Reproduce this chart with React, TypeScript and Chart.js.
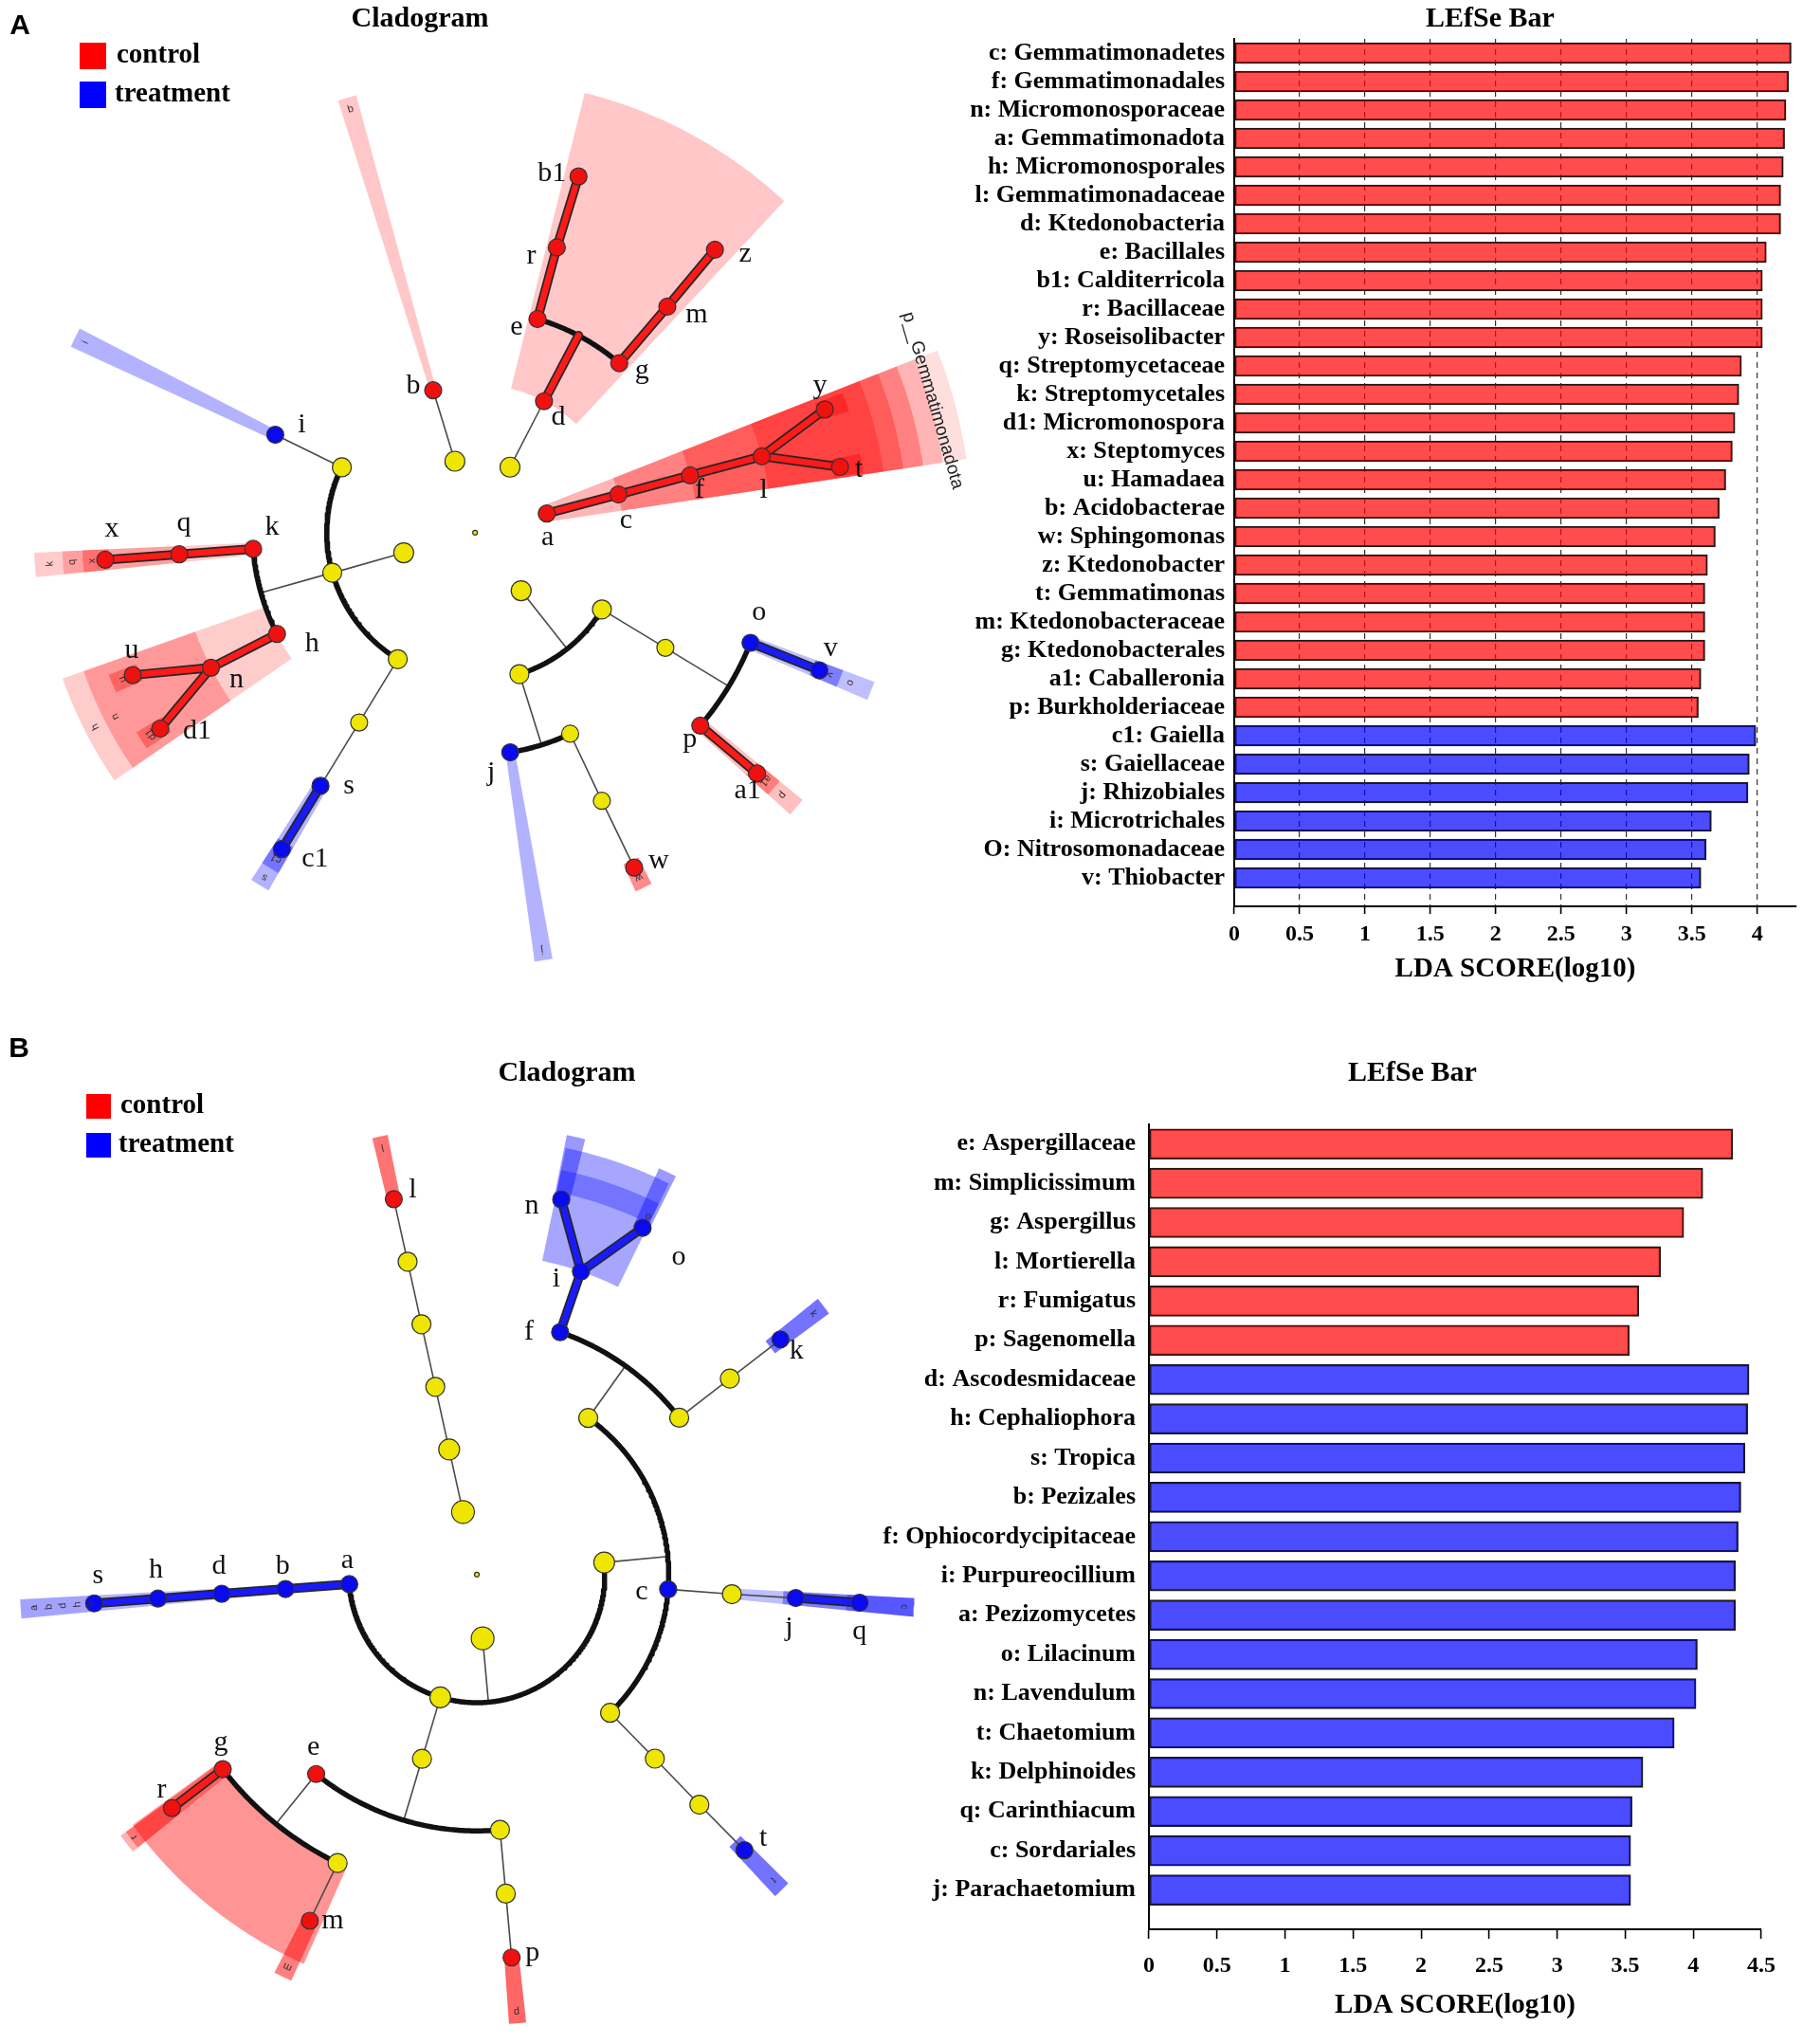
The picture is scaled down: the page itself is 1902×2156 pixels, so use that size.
import React, { useEffect, useRef } from 'react';
import { Chart, registerables } from 'chart.js';

Chart.register(...registerables);

const SERIF = '"Liberation Serif", "Times New Roman", serif';
const SANS = '"Liberation Sans", Arial, sans-serif';
Chart.defaults.font.family = SERIF;

// ================= DATA: Panel A LEfSe bar =================
const A_BAR_LABELS = [
  'c: Gemmatimonadetes', 'f: Gemmatimonadales', 'n: Micromonosporaceae', 'a: Gemmatimonadota',
  'h: Micromonosporales', 'l: Gemmatimonadaceae', 'd: Ktedonobacteria', 'e: Bacillales',
  'b1: Calditerricola', 'r: Bacillaceae', 'y: Roseisolibacter', 'q: Streptomycetaceae',
  'k: Streptomycetales', 'd1: Micromonospora', 'x: Steptomyces', 'u: Hamadaea',
  'b: Acidobacterae', 'w: Sphingomonas', 'z: Ktedonobacter', 't: Gemmatimonas',
  'm: Ktedonobacteraceae', 'g: Ktedonobacterales', 'a1: Caballeronia', 'p: Burkholderiaceae',
  'c1: Gaiella', 's: Gaiellaceae', 'j: Rhizobiales', 'i: Microtrichales',
  'O: Nitrosomonadaceae', 'v: Thiobacter',
];
const A_BAR_VALUES = [
  4.26, 4.24, 4.22, 4.21, 4.2, 4.18, 4.18, 4.07, 4.04, 4.04, 4.04, 3.88, 3.86, 3.83, 3.81,
  3.76, 3.71, 3.68, 3.62, 3.6, 3.6, 3.6, 3.57, 3.55, 3.99, 3.94, 3.93, 3.65, 3.61, 3.57,
];
const A_BAR_GROUPS = [
  'control', 'control', 'control', 'control', 'control', 'control', 'control', 'control',
  'control', 'control', 'control', 'control', 'control', 'control', 'control', 'control',
  'control', 'control', 'control', 'control', 'control', 'control', 'control', 'control',
  'treatment', 'treatment', 'treatment', 'treatment', 'treatment', 'treatment',
];
const A_X_MAX = 4.3;

// ================= DATA: Panel B LEfSe bar =================
const B_BAR_LABELS = [
  'e: Aspergillaceae', 'm: Simplicissimum', 'g: Aspergillus', 'l: Mortierella', 'r: Fumigatus',
  'p: Sagenomella', 'd: Ascodesmidaceae', 'h: Cephaliophora', 's: Tropica', 'b: Pezizales',
  'f: Ophiocordycipitaceae', 'i: Purpureocillium', 'a: Pezizomycetes', 'o: Lilacinum',
  'n: Lavendulum', 't: Chaetomium', 'k: Delphinoides', 'q: Carinthiacum', 'c: Sordariales',
  'j: Parachaetomium',
];
const B_BAR_VALUES = [
  4.29, 4.07, 3.93, 3.76, 3.6, 3.53, 4.41, 4.4, 4.38, 4.35, 4.33, 4.31, 4.31, 4.03, 4.02,
  3.86, 3.63, 3.55, 3.54, 3.54,
];
const B_BAR_GROUPS = [
  'control', 'control', 'control', 'control', 'control', 'control',
  'treatment', 'treatment', 'treatment', 'treatment', 'treatment', 'treatment', 'treatment',
  'treatment', 'treatment', 'treatment', 'treatment', 'treatment', 'treatment', 'treatment',
];
const B_X_MAX = 4.5;

// ================= DATA: Panel A cladogram (level = taxonomic rank, angle in degrees) =================
const A_NODE_IDS = [
  'root', '_1a', 'b', '_1b', 'd', 'e', 'r', 'b1', 'g', 'm', 'z',
  'a', 'c', 'f', 'l', 'y', 't',
  '_1d', '_2d', '_3d', 'o', 'v', 'p', 'a1', '_2j', 'j', '_3w', '_4w', 'w',
  '_1e', '_2i', 'i', '_2k', 'k', 'q', 'x', 'h', 'n', 'u', 'd1', '_2s', '_3s', 's', 'c1',
];
const A_NODE_LEVELS = [
  0, 1, 2, 1, 2, 3, 4, 5, 3, 4, 5,
  1, 2, 3, 4, 5, 5,
  1, 2, 3, 4, 5, 4, 5, 2, 3, 3, 4, 5,
  1, 2, 3, 2, 3, 4, 5, 3, 4, 5, 5, 2, 3, 4, 5,
];
const A_NODE_ANGLES = [
  0, 105.8, 106.4, 61.9, 62.3, 73.7, 74.0, 73.8, 49.6, 49.6, 49.7,
  14.9, 14.9, 14.9, 14.9, 19.4, 10.2,
  -51.6, -31.2, -31.2, -21.8, -21.8, -40.6, -40.5, -72.6, -80.9, -64.7, -64.7, -64.6,
  195.8, 153.9, 153.9, 195.7, 184.2, 184.2, 184.2, 207.1, 207.1, 202.6, 211.9, 238.6, 238.6, 238.6, 238.6,
];
const A_NODE_PARENTS = [
  '', 'root', '_1a', 'root', '_1b', 'd', 'e', 'r', 'd', 'g', 'm',
  'root', 'a', 'c', 'f', 'l', 'l',
  'root', '_1d', '_2d', '_3d', 'o', '_3d', 'p', '_1d', '_2j', '_2j', '_3w', '_4w',
  'root', '_1e', '_2i', '_1e', '_2k', 'k', 'q', '_2k', 'h', 'n', 'n', '_1e', '_2s', '_3s', 's',
];
const A_NODE_GROUPS = [
  '', '', 'control', '', 'control', 'control', 'control', 'control', 'control', 'control', 'control',
  'control', 'control', 'control', 'control', 'control', 'control',
  '', '', '', 'treatment', 'treatment', 'control', 'control', '', 'treatment', '', '', 'control',
  '', '', 'treatment', '', 'control', 'control', 'control', 'control', 'control', 'control', 'control',
  '', '', 'treatment', 'treatment',
];
// highlighted clades: node, angular span (deg), radial span (rank levels), opacity
const A_HL_NODES = ['b', 'i', 'd', 'a', 'a', 'c', 'f', 'l', 'y', 't', 'k', 'q', 'x', 'h', 'n', 'u', 'd1', 's', 'c1', 'j', 'w', 'o', 'v', 'p', 'a1'];
const A_HL_FROM = [105.2, 152.7, 47, 8.5, 8.5, 8.5, 8.5, 8.5, 18.0, 8.8, 182.6, 182.6, 182.6, 199.5, 199.5, 201.2, 210.5, 237.2, 237.2, -82.1, -65.9, -23.1, -23.1, -41.8, -41.8];
const A_HL_TO = [107.6, 155.3, 76, 21.5, 21.5, 21.5, 21.5, 21.5, 20.8, 11.6, 185.8, 185.8, 185.8, 214.5, 214.5, 204.0, 213.3, 240, 240, -79.7, -63.3, -20.5, -20.5, -39.2, -39.2];
const A_HL_INNER = [2.0, 3.0, 2.0, 1.0, 6.38, 2.0, 3.0, 4.0, 4.9, 4.9, 3.0, 4.0, 4.95, 3.0, 4.0, 4.9, 4.9, 4.0, 4.9, 3.0, 4.9, 4.0, 4.9, 4.0, 4.9];
const A_HL_OUTER = [6.11, 6.0, 6.11, 6.38, 6.7, 6.11, 5.84, 5.57, 5.3, 5.3, 5.95, 5.57, 5.3, 5.9, 5.6, 5.3, 5.3, 5.57, 5.3, 5.84, 5.3, 5.75, 5.3, 5.7, 5.3];
const A_HL_ALPHA = [0.22, 0.3, 0.22, 0.29, 0.13, 0.29, 0.29, 0.29, 0.4, 0.4, 0.2, 0.22, 0.3, 0.2, 0.25, 0.35, 0.35, 0.3, 0.35, 0.3, 0.45, 0.25, 0.35, 0.25, 0.35];
const A_CLADE_LABELS = ['p__Gemmatimonadota'];
const A_CLADE_LABEL_R = [6.42];
const A_CLADE_LABEL_ANGLE = [16.1];
// small abbreviation letters written inside the highlight bands
const A_BAND_TEXT = ['b', 'i', 'x', 'q', 'k', 'u', 'd1', 'n', 'h', 'c1', 's', 'j', 'w', 'v', 'o', 'a1', 'p'];
const A_BAND_R = [5.95, 5.85, 5.18, 5.45, 5.75, 5.15, 5.15, 5.45, 5.75, 5.15, 5.45, 5.7, 5.15, 5.15, 5.45, 5.15, 5.45];
const A_BAND_ANGLE = [106.4, 154.0, 184.2, 184.2, 184.2, 202.6, 211.9, 207.1, 207.1, 238.6, 238.6, -80.9, -64.6, -21.8, -21.8, -40.5, -40.5];

// ================= DATA: Panel B cladogram =================
const B_NODE_IDS = [
  'root', '_1m', '_2m', '_3m', '_4m', '_5m', 'l',
  '_1a', 'a', 'b', 'd', 'h', 's',
  '_2e', '_3e', 'e', 'g', 'r', '_5x', 'm', '_4p', '_5p', 'p',
  '_2s', '_3h', 'f', 'i', 'n', 'o', '_4k', '_5k', 'k', 'c', '_4c', 'j', 'q', '_3t', '_4t', '_5t', 't',
];
const B_NODE_LEVELS = [
  0, 1, 2, 3, 4, 5, 6,
  1, 2, 3, 4, 5, 6,
  2, 3, 4, 5, 6, 5, 6, 4, 5, 6,
  2, 3, 4, 5, 6, 6, 4, 5, 6, 3, 4, 5, 6, 3, 4, 5, 6,
];
const B_NODE_ANGLES = [
  0, 102.5, 102.5, 102.5, 102.5, 102.5, 102.5,
  275.2, 184.3, 184.3, 184.3, 184.3, 184.3,
  253.4, 253.4, 231.1, 217.4, 217.4, 244.2, 244.2, 275.2, 275.2, 275.2,
  365.4, 414.5, 431.0, 431.0, 437.3, 424.4, 397.7, 397.7, 397.7, 355.6, 355.6, 355.8, 355.8, 314.0, 314.1, 314.1, 314.2,
];
const B_NODE_PARENTS = [
  '', 'root', '_1m', '_2m', '_3m', '_4m', '_5m',
  'root', '_1a', 'a', 'b', 'd', 'h',
  '_1a', '_2e', '_3e', 'e', 'g', 'e', '_5x', '_3e', '_4p', '_5p',
  '_1a', '_2s', '_3h', 'f', 'i', 'i', '_3h', '_4k', '_5k', '_2s', 'c', '_4c', 'j', '_2s', '_3t', '_4t', '_5t',
];
const B_NODE_GROUPS = [
  '', '', '', '', '', '', 'control',
  '', 'treatment', 'treatment', 'treatment', 'treatment', 'treatment',
  '', '', 'control', 'control', 'control', '', 'control', '', '', 'control',
  '', '', 'treatment', 'treatment', 'treatment', 'treatment', '', '', 'treatment', 'treatment', '', 'treatment', 'treatment', '', '', '', 'treatment',
];
const B_HL_NODES = ['l', 'i', 'i', 'n', 'o', 'k', 'c', 'j', 'q', 't', 'a', 'b', 'd', 'h', 's', 'e', 'g', 'r', 'm', 'p'];
const B_HL_FROM = [101.5, 423.8, 423.8, 436.0, 423.4, 396.5, 354.5, 354.5, 354.5, 312.9, 183.1, 183.1, 183.1, 183.1, 183.1, 216.0, 216.2, 216.2, 243.0, 274.1];
const B_HL_TO = [103.5, 438.2, 438.2, 438.4, 425.8, 398.9, 356.9, 356.9, 356.9, 315.3, 185.5, 185.5, 185.5, 185.5, 185.5, 246.0, 218.8, 218.8, 245.4, 276.3];
const B_HL_INNER = [5.95, 5.0, 6.1, 5.95, 5.95, 5.8, 3.85, 4.8, 5.8, 5.8, 1.95, 2.95, 3.95, 4.95, 5.95, 5.0, 5.0, 5.95, 5.95, 5.95];
const B_HL_OUTER = [7.0, 6.8, 6.45, 7.0, 6.95, 6.85, 6.85, 6.85, 6.85, 6.85, 7.15, 7.15, 7.15, 7.15, 7.15, 6.65, 6.8, 6.9, 6.97, 7.03];
const B_HL_ALPHA = [0.55, 0.35, 0.3, 0.4, 0.4, 0.55, 0.25, 0.35, 0.3, 0.55, 0.1, 0.08, 0.08, 0.08, 0.1, 0.42, 0.35, 0.3, 0.5, 0.6];
const B_BAND_TEXT = ['l', 'k', 't', 'c', 'a', 'b', 'd', 'h', 's', 'p', 'm', 'r', 'o'];
const B_BAND_R = [6.8, 6.65, 6.65, 6.7, 6.94, 6.71, 6.49, 6.26, 6.05, 6.85, 6.8, 6.75, 6.2];
const B_BAND_ANGLE = [102.5, 397.7, 314.2, 355.7, 184.3, 184.3, 184.3, 184.3, 184.3, 275.2, 244.2, 217.4, 424.4];

// ================= STYLE (label offsets in px, sizes) =================
const A_LABEL_OFFSET: Record<string, [number, number]> = {
  b1: [-28, -3], r: [-27, 9], e: [-22, 9], d: [15, 17], g: [24, 8], m: [31, 9], z: [32, 5],
  b: [-21, -5], i: [28, -10], a: [1, 25], c: [8, 28], f: [10, 16], l: [2, 36], y: [-5, -25],
  t: [20, 3], x: [7, -32], q: [5, -33], k: [20, -23], h: [37, 10], u: [-1, -26], n: [27, 13],
  d1: [39, 3], s: [30, 0], c1: [35, 10], o: [9, -32], v: [12, -23], p: [-11, 15], a1: [-10, 18],
  j: [-20, 22], w: [26, -7],
};
const B_LABEL_OFFSET: Record<string, [number, number]> = {
  l: [20, -10], n: [-31, 7], o: [38, 31], i: [-26, 8], f: [-33, 0], k: [17, 12], c: [-28, 3],
  j: [-7, 32], q: [0, 31], t: [20, -12], a: [-2, -25], b: [-3, -24], d: [-3, -29], h: [-2, -30],
  s: [4, -29], g: [-2, -28], r: [-11, -19], e: [-3, -28], m: [24, 0], p: [22, -5],
};

const GROUP_RGB: Record<string, number[]> = { control: [255, 0, 0], treatment: [0, 0, 255] };
const NODE_FILL: Record<string, string> = { '': '#EEE600', control: '#F01010', treatment: '#0A0AEE' };
const LINE_FILL: Record<string, string> = { control: '#FF1A1A', treatment: '#1A1AFF' };
const BAR_FILL: Record<string, string> = { control: 'rgba(255,0,0,0.7)', treatment: 'rgba(0,0,255,0.7)' };

type TextItem = {
  text: string; x: number; y: number; font: string; color?: string;
  align?: CanvasTextAlign; baseline?: CanvasTextBaseline; rotate?: number;
};
type RectItem = { x: number; y: number; w: number; h: number; color: string };

function decorPlugin(getItems: (chart: any) => { texts: TextItem[]; rects?: RectItem[] }) {
  return {
    id: 'decor',
    afterDraw(chart: any) {
      const { texts, rects = [] } = getItems(chart);
      const ctx = chart.ctx as CanvasRenderingContext2D;
      ctx.save();
      for (const r of rects) {
        ctx.fillStyle = r.color;
        ctx.fillRect(r.x, r.y, r.w, r.h);
      }
      for (const t of texts) {
        ctx.save();
        ctx.font = t.font;
        ctx.fillStyle = t.color || '#000';
        ctx.textAlign = t.align || 'center';
        ctx.textBaseline = t.baseline || 'middle';
        ctx.translate(t.x, t.y);
        if (t.rotate) ctx.rotate((t.rotate * Math.PI) / 180);
        ctx.fillText(t.text, 0, 0);
        ctx.restore();
      }
      ctx.restore();
    },
  };
}

function polar(L: number, deg: number) {
  const a = (deg * Math.PI) / 180;
  return { x: L * Math.cos(a), y: L * Math.sin(a) };
}
function arcPoints(L: number, a0: number, a1: number) {
  const n = Math.max(2, Math.ceil(Math.abs(a1 - a0) / 0.5));
  const pts = [];
  for (let i = 0; i <= n; i++) pts.push(polar(L, a0 + ((a1 - a0) * i) / n));
  return pts;
}
function sectorPoints(a0: number, a1: number, r0: number, r1: number) {
  return [...arcPoints(r1, a0, a1), ...arcPoints(r0, a1, a0)];
}

type CladoSpec = {
  ids: string[]; levels: number[]; angles: number[]; parents: string[]; groups: string[];
  hlNodes: string[]; hlFrom: number[]; hlTo: number[]; hlInner: number[]; hlOuter: number[]; hlAlpha: number[];
  bandText: string[]; bandR: number[]; bandAngle: number[];
  maxLevel: number;
};
type CladoLayout = {
  width: number; height: number; cx: number; cy: number; step: number;
  nodeR: (level: number, group: string) => number;
};

function buildCladoDatasets(spec: CladoSpec, lay: CladoLayout) {
  const datasets: any[] = [];
  const index = new Map(spec.ids.map((id, i) => [id, i] as [string, number]));
  const pos = (i: number) => polar(spec.levels[i], spec.angles[i]);

  spec.hlNodes.forEach((id, k) => {
    const g = spec.groups[index.get(id)!];
    const [r, gg, b] = GROUP_RGB[g];
    datasets.push({
      data: sectorPoints(spec.hlFrom[k], spec.hlTo[k], spec.hlInner[k], spec.hlOuter[k]),
      showLine: true, fill: 'shape', backgroundColor: `rgba(${r},${gg},${b},${spec.hlAlpha[k]})`,
      borderWidth: 0, borderColor: 'rgba(0,0,0,0)', pointRadius: 0, order: 20,
    });
  });

  const seg = (pts: any[], style: string) => {
    if (style === 'thin') {
      datasets.push({ data: pts, showLine: true, borderColor: '#4a4a4a', borderWidth: 1.6, pointRadius: 0, order: 15 });
    } else if (style === 'arc') {
      datasets.push({ data: pts, showLine: true, borderColor: '#111', borderWidth: 5.5, pointRadius: 0, order: 14, borderJoinStyle: 'round' });
    } else {
      datasets.push({ data: pts, showLine: true, borderColor: '#262626', borderWidth: 10, pointRadius: 0, order: 7, borderCapStyle: 'round', borderJoinStyle: 'round' });
      datasets.push({ data: pts, showLine: true, borderColor: LINE_FILL[style], borderWidth: 6.5, pointRadius: 0, order: 6, borderCapStyle: 'round', borderJoinStyle: 'round' });
    }
  };

  const kids = new Map<string, number[]>();
  spec.parents.forEach((p, i) => {
    if (!p) return;
    if (!kids.has(p)) kids.set(p, []);
    kids.get(p)!.push(i);
  });
  kids.forEach((ch, pid) => {
    const P = index.get(pid)!;
    if (spec.levels[P] === 0) return;
    const pg = spec.groups[P];
    const direct = ch.length === 1 || spec.levels[ch[0]] === spec.maxLevel;
    if (direct) {
      ch.forEach((c) => seg([pos(P), pos(c)], pg && spec.groups[c] === pg ? pg : 'thin'));
    } else {
      const allSame = !!pg && ch.every((c) => spec.groups[c] === pg);
      const Lc = spec.levels[P] + 1;
      seg([pos(P), polar(Lc, spec.angles[P])], allSame ? pg : 'thin');
      const as = ch.map((c) => spec.angles[c]);
      seg(arcPoints(Lc, Math.min(...as), Math.max(...as)), 'arc');
    }
  });

  ['', 'control', 'treatment'].forEach((g) => {
    const idxs = spec.ids.map((_, i) => i).filter((i) => spec.groups[i] === g);
    datasets.push({
      data: idxs.map(pos),
      pointRadius: idxs.map((i) => lay.nodeR(spec.levels[i], g)),
      pointBackgroundColor: NODE_FILL[g], pointBorderColor: '#333', pointBorderWidth: 1.2,
      showLine: false, order: 1,
    });
  });
  return datasets;
}

function cladoConfig(spec: CladoSpec, lay: CladoLayout, extra: (chart: any) => { texts: TextItem[]; rects?: RectItem[] }, labelOffset: Record<string, [number, number]>, labelFont: string) {
  const datasets = buildCladoDatasets(spec, lay);
  const xMin = -lay.cx / lay.step;
  const xMax = (lay.width - lay.cx) / lay.step;
  const yMax = lay.cy / lay.step;
  const yMin = -(lay.height - lay.cy) / lay.step;
  return {
    type: 'scatter',
    data: { datasets },
    options: {
      responsive: false, animation: false, devicePixelRatio: 1, events: [],
      layout: { padding: 0 },
      plugins: { legend: { display: false }, tooltip: { enabled: false }, title: { display: false } },
      scales: {
        x: { type: 'linear', display: false, min: xMin, max: xMax, bounds: 'data', offset: false },
        y: { type: 'linear', display: false, min: yMin, max: yMax, bounds: 'data', offset: false },
      },
    },
    plugins: [
      decorPlugin((chart: any) => {
        const base = extra(chart);
        const X = (v: number) => chart.scales.x.getPixelForValue(v);
        const Y = (v: number) => chart.scales.y.getPixelForValue(v);
        const labels: TextItem[] = [];
        spec.bandText.forEach((t, k) => {
          const p = polar(spec.bandR[k], spec.bandAngle[k]);
          labels.push({ text: t, x: X(p.x), y: Y(p.y), font: `11px ${SANS}`, color: '#3a2a2a', rotate: 90 - spec.bandAngle[k] });
        });
        spec.ids.forEach((id, i) => {
          if (!spec.groups[i]) return;
          const p = polar(spec.levels[i], spec.angles[i]);
          const off = labelOffset[id] || [15, 0];
          labels.push({ text: id, x: X(p.x) + off[0], y: Y(p.y) + off[1], font: labelFont, color: '#111' });
        });
        return { texts: [...base.texts, ...labels], rects: base.rects };
      }),
    ],
  };
}

type BarOpts = {
  labels: string[]; values: number[]; groups: string[]; xMax: number; yExtra: number;
  padTop: number; padRight: number; padBottom: number; yAxisWidth: number; xAxisHeight: number;
  barThickness: number; labelSize: number; tickPad: number; tickLen: number; dashedGrid: boolean;
  titleX: number; titleY: number; labelPad: number;
};

function barConfig(o: BarOpts) {
  const n = o.labels.length;
  return {
    type: 'bar',
    data: {
      datasets: [{
        data: o.values.map((v, i) => ({ x: v, y: i })),
        backgroundColor: o.groups.map((g) => BAR_FILL[g]),
        borderColor: '#1b1b1b', borderWidth: 1.6, borderSkipped: false,
        barThickness: o.barThickness,
      }],
    },
    options: {
      indexAxis: 'y', responsive: false, animation: false, devicePixelRatio: 1, events: [],
      layout: { padding: { top: o.padTop, right: o.padRight, bottom: o.padBottom, left: 0 } },
      plugins: { legend: { display: false }, tooltip: { enabled: false } },
      scales: {
        y: {
          type: 'linear', reverse: true, min: -0.5, max: n - 0.5 + o.yExtra, bounds: 'data',
          offset: false, grace: 0,
          afterBuildTicks: (s: any) => { s.ticks = o.labels.map((_, i) => ({ value: i })); },
          afterFit: (s: any) => { s.width = o.yAxisWidth; },
          grid: { display: false, drawTicks: false, offset: false },
          border: { display: true, color: '#000', width: 2 },
          ticks: {
            autoSkip: false, padding: o.labelPad, color: '#000',
            font: { family: SERIF, size: o.labelSize, weight: 'bold' },
            callback: (v: any) => o.labels[v] ?? '',
          },
        },
        x: {
          type: 'linear', min: 0, max: o.xMax, bounds: 'data', offset: false,
          afterBuildTicks: (s: any) => {
            const t = [];
            for (let k = 0; k * 0.5 <= o.xMax + 1e-9; k++) t.push({ value: k * 0.5 });
            s.ticks = t;
          },
          afterFit: (s: any) => { s.height = o.xAxisHeight; },
          ticks: {
            autoSkip: false, maxRotation: 0, minRotation: 0,
            padding: o.tickPad, color: '#000', font: { family: SERIF, size: 24, weight: 'bold' },
            callback: (v: any) => String(v),
          },
          grid: {
            display: true, drawOnChartArea: o.dashedGrid, drawTicks: true, tickLength: o.tickLen,
            tickColor: '#000', tickWidth: 1.6, lineWidth: 1.2,
            color: (c: any) => (c.tick && c.tick.value === 0 ? 'rgba(0,0,0,0)' : '#333'),
          },
          border: { display: true, color: '#000', width: 2, dash: o.dashedGrid ? [6, 5] : [] },
          title: {
            display: true, text: 'LDA SCORE(log10)', color: '#000',
            font: { family: SERIF, size: 29, weight: 'bold' }, padding: { top: 4, bottom: 4 },
          },
        },
      },
    },
    plugins: [
      decorPlugin(() => ({
        texts: [{ text: 'LEfSe Bar', x: o.titleX, y: o.titleY, font: `bold 30px ${SERIF}` }],
      })),
    ],
  };
}

function ChartBox({ left, top, width, height, make }: { left: number; top: number; width: number; height: number; make: () => any }) {
  const ref = useRef<HTMLCanvasElement>(null);
  useEffect(() => {
    const chart = new Chart(ref.current as HTMLCanvasElement, make());
    return () => chart.destroy();
  }, []);
  return (
    <div style={{ position: 'absolute', left, top, width, height }}>
      <canvas ref={ref} width={width} height={height} style={{ width, height, display: 'block' }} />
    </div>
  );
}

const A_SPEC: CladoSpec = {
  ids: A_NODE_IDS, levels: A_NODE_LEVELS, angles: A_NODE_ANGLES, parents: A_NODE_PARENTS, groups: A_NODE_GROUPS,
  hlNodes: A_HL_NODES, hlFrom: A_HL_FROM, hlTo: A_HL_TO, hlInner: A_HL_INNER, hlOuter: A_HL_OUTER, hlAlpha: A_HL_ALPHA,
  bandText: A_BAND_TEXT, bandR: A_BAND_R, bandAngle: A_BAND_ANGLE,
  maxLevel: 5,
};
const B_SPEC: CladoSpec = {
  ids: B_NODE_IDS, levels: B_NODE_LEVELS, angles: B_NODE_ANGLES, parents: B_NODE_PARENTS, groups: B_NODE_GROUPS,
  hlNodes: B_HL_NODES, hlFrom: B_HL_FROM, hlTo: B_HL_TO, hlInner: B_HL_INNER, hlOuter: B_HL_OUTER, hlAlpha: B_HL_ALPHA,
  bandText: B_BAND_TEXT, bandR: B_BAND_R, bandAngle: B_BAND_ANGLE,
  maxLevel: 6,
};

const A_LAYOUT: CladoLayout = {
  width: 1060, height: 1060, cx: 500.5, cy: 562.5, step: 80,
  nodeR: (lv, g) => (lv === 0 ? 2.5 : g ? 9 : lv === 1 ? 10.5 : lv === 2 ? 10 : 9),
};
const B_LAYOUT: CladoLayout = {
  width: 1000, height: 1076, cx: 503.1, cy: 581.9, step: 69.3,
  nodeR: (lv, g) => (lv === 0 ? 2.5 : g ? 9 : lv === 1 ? 12 : lv === 2 ? 11 : 10),
};

function legendItems(x: number, y1: number, y2: number, size: number, tx1: number, tx2: number) {
  return {
    rects: [
      { x, y: y1 - size / 2, w: size, h: size, color: '#FF0000' },
      { x, y: y2 - size / 2, w: size, h: size, color: '#0000FF' },
    ],
    texts: [
      { text: 'control', x: tx1, y: y1, font: `bold 29px ${SERIF}`, align: 'left' as CanvasTextAlign },
      { text: 'treatment', x: tx2, y: y2, font: `bold 29px ${SERIF}`, align: 'left' as CanvasTextAlign },
    ],
  };
}

export default function App() {
  return (
    <div style={{ position: 'absolute', left: 0, top: 0, width: 1902, height: 2156 }}>
      <ChartBox
        left={0} top={0} width={1060} height={1060}
        make={() => cladoConfig(A_SPEC, A_LAYOUT, (chart: any) => {
          const lg = legendItems(84, 59, 100, 28, 123, 121);
          const X = (v: number) => chart.scales.x.getPixelForValue(v);
          const Y = (v: number) => chart.scales.y.getPixelForValue(v);
          const clade: TextItem[] = A_CLADE_LABELS.map((t, k) => {
            const p = polar(A_CLADE_LABEL_R[k], A_CLADE_LABEL_ANGLE[k]);
            return { text: t, x: X(p.x), y: Y(p.y), font: `19px ${SANS}`, color: '#222', rotate: 90 - A_CLADE_LABEL_ANGLE[k] };
          });
          return {
            rects: lg.rects,
            texts: [
              { text: 'A', x: 21, y: 28, font: `bold 30px ${SANS}` },
              { text: 'Cladogram', x: 443, y: 20, font: `bold 30px ${SERIF}` },
              ...lg.texts,
              ...clade,
            ],
          };
        }, A_LABEL_OFFSET, `30px ${SERIF}`)}
      />
      <ChartBox
        left={1000} top={0} width={902} height={1060}
        make={() => barConfig({
          labels: A_BAR_LABELS, values: A_BAR_VALUES, groups: A_BAR_GROUPS, xMax: A_X_MAX, yExtra: 0.5,
          padTop: 41, padRight: 7, padBottom: 16, yAxisWidth: 302, xAxisHeight: 88,
          barThickness: 22, labelSize: 26, tickPad: 7, tickLen: 8, dashedGrid: true,
          titleX: 572, titleY: 20, labelPad: 10,
        })}
      />
      <ChartBox
        left={0} top={1080} width={1000} height={1076}
        make={() => cladoConfig(B_SPEC, B_LAYOUT, () => {
          const lg = legendItems(91, 87, 128, 26, 127, 125);
          return {
            rects: lg.rects,
            texts: [
              { text: 'B', x: 20, y: 27, font: `bold 30px ${SANS}` },
              { text: 'Cladogram', x: 598, y: 52, font: `bold 30px ${SERIF}` },
              ...lg.texts,
            ],
          };
        }, B_LABEL_OFFSET, `30px ${SERIF}`)}
      />
      <ChartBox
        left={880} top={1080} width={1022} height={1076}
        make={() => barConfig({
          labels: B_BAR_LABELS, values: B_BAR_VALUES, groups: B_BAR_GROUPS, xMax: B_X_MAX, yExtra: 0.5,
          padTop: 106, padRight: 44, padBottom: 19, yAxisWidth: 332, xAxisHeight: 102,
          barThickness: 32, labelSize: 26, tickPad: 14, tickLen: 10, dashedGrid: false,
          titleX: 610, titleY: 52, labelPad: 14,
        })}
      />
    </div>
  );
}
